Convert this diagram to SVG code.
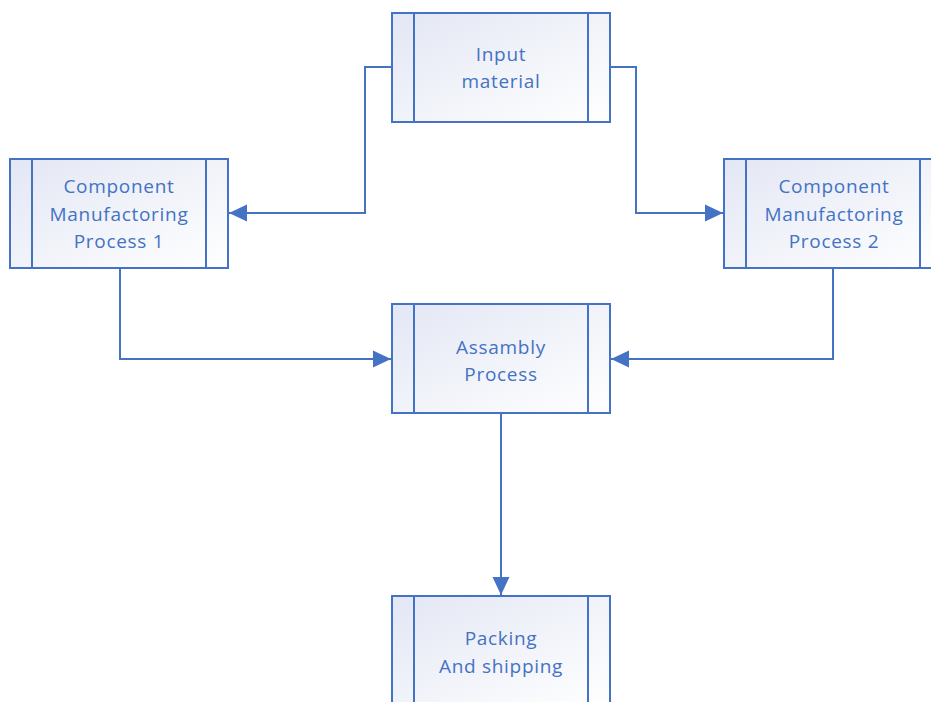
<svg xmlns="http://www.w3.org/2000/svg" width="931" height="702" viewBox="0 0 931 702">
<style>
.box{fill:url(#g);stroke:#4472C4;stroke-width:2}
.bar{stroke:#4472C4;stroke-width:2;fill:none}
.lbl{font-family:"Open Sans","Liberation Sans",sans-serif;font-size:19px;letter-spacing:0.7px;fill:#4472C4;text-anchor:middle;dominant-baseline:central}
.con{fill:none;stroke:#4472C4;stroke-width:2}
</style>
<defs>
<linearGradient id="g" x1="0" y1="0" x2="1" y2="1">
<stop offset="0" stop-color="#E3E7F4"/>
<stop offset="1" stop-color="#FFFFFF"/>
</linearGradient>
<marker id="arr" markerUnits="userSpaceOnUse" markerWidth="18" markerHeight="18" viewBox="0 0 17 16" refX="17" refY="8" orient="auto">
<path d="M0,0 L17,8 L0,16 Z" fill="#4472C4"/>
</marker>
</defs>
<rect width="931" height="702" fill="#FFFFFF"/>
<g id="connectors">
<path class="con" d="M392,67 H365 V213 H229" marker-end="url(#arr)"/>
<path class="con" d="M610,67 H636 V213 H723" marker-end="url(#arr)"/>
<path class="con" d="M120,268 V359 H391" marker-end="url(#arr)"/>
<path class="con" d="M833,268 V359 H611" marker-end="url(#arr)"/>
<path class="con" d="M501,413 V595" marker-end="url(#arr)"/>
</g>
<g id="input">
<rect class="box" x="392" y="13" width="218" height="109"/>
<path class="bar" d="M414,13 V122 M588,13 V122"/>
<text class="lbl" x="501" y="54">Input</text>
<text class="lbl" x="501" y="81">material</text>
</g>
<g id="comp1">
<rect class="box" x="10" y="159" width="218" height="109"/>
<path class="bar" d="M32,159 V268 M206,159 V268"/>
<text class="lbl" x="119" y="186">Component</text>
<text class="lbl" x="119" y="213.5">Manufactoring</text>
<text class="lbl" x="119" y="241">Process 1</text>
</g>
<g id="comp2">
<rect class="box" x="724" y="159" width="218" height="109"/>
<path class="bar" d="M746,159 V268 M920,159 V268"/>
<text class="lbl" x="834" y="186">Component</text>
<text class="lbl" x="834" y="213.5">Manufactoring</text>
<text class="lbl" x="834" y="241">Process 2</text>
</g>
<g id="assembly">
<rect class="box" x="392" y="304" width="218" height="109"/>
<path class="bar" d="M414,304 V413 M588,304 V413"/>
<text class="lbl" x="501" y="347">Assambly</text>
<text class="lbl" x="501" y="374">Process</text>
</g>
<g id="packing">
<rect class="box" x="392" y="596" width="218" height="109"/>
<path class="bar" d="M414,596 V705 M588,596 V705"/>
<text class="lbl" x="501" y="638">Packing</text>
<text class="lbl" x="501" y="666">And shipping</text>
</g>
</svg>
